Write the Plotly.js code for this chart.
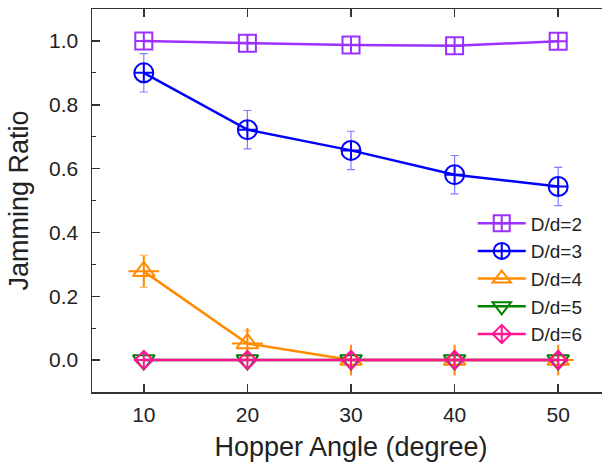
<!DOCTYPE html>
<html>
<head>
<meta charset="utf-8">
<script src="https://cdn.plot.ly/plotly-3.0.1.min.js"></script>
<style>
html,body{margin:0;padding:0;overflow:hidden;background:#fff;width:602px;height:466px;}
#chart{width:612px;height:466px;}
</style>
</head>
<body>
<div id="chart"></div>
<script>
const angles = [10, 20, 30, 40, 50];
const seriesNames = ['D/d=2', 'D/d=3', 'D/d=4', 'D/d=5', 'D/d=6'];
const dd2 = [1.0, 0.993, 0.987, 0.985, 0.999];
const dd3 = [0.900, 0.722, 0.657, 0.581, 0.544];
const dd4 = [0.278, 0.052, 0.0, 0.0, 0.0];
const dd5 = [0.0, 0.0, 0.0, 0.0, 0.0];
const dd6 = [0.0, 0.0, 0.0, 0.0, 0.0];
const err3 = [0.06, 0.06, 0.06, 0.06, 0.06];
const err4 = [0.05, 0.04, 0, 0, 0];
const xTicks = [10, 20, 30, 40, 50];
const yTicks = [0.0, 0.2, 0.4, 0.6, 0.8, 1.0];

const colors = ['#9B30FF', '#0000FF', '#FF8C00', '#008000', '#FF1493'];
const errColors = ['rgba(155,48,255,0.5)', 'rgba(0,0,255,0.5)', 'rgba(255,140,0,0.6)', 'rgba(0,128,0,0.5)', 'rgba(255,20,147,0.5)'];
const symbols = ['square-cross-open', 'circle-cross-open', 'triangle-up-open', 'triangle-down-open', 'diamond-cross-open'];
const sizes = [17, 19, 19, 19, 14];
const values = [dd2, dd3, dd4, dd5, dd6];
const errs = [null, err3, err4, null, null];

const traces = [];
values.forEach((v, i) => {
  const t = {
    x: angles, y: v, name: seriesNames[i], type: 'scatter', mode: 'lines+markers',
    line: {color: colors[i], width: 2.5},
    marker: {symbol: symbols[i], size: sizes[i], color: colors[i], line: {color: colors[i], width: 2}}
  };
  if (errs[i]) {
    t.error_y = {type: 'data', array: errs[i], visible: true, color: errColors[i], thickness: 1.2, width: 4};
  }
  traces.push(t);
  if (i === 2) {
    traces.push({
      x: angles, y: v, type: 'scatter', mode: 'markers', showlegend: false, hoverinfo: 'skip',
      marker: {symbol: 'cross-thin-open', size: 22, color: colors[i], line: {color: colors[i], width: 2}}
    });
  }
});

const layout = {
  width: 612, height: 466,
  margin: {l: 92, r: 2, t: 9, b: 74},
  paper_bgcolor: '#fff', plot_bgcolor: '#fff',
  font: {family: 'Liberation Sans, Arial, sans-serif', color: '#222'},
  showlegend: true,
  legend: {
    x: 0.735, y: 0.49, xanchor: 'left', yanchor: 'top',
    bgcolor: 'rgba(0,0,0,0)', borderwidth: 0,
    font: {size: 19, color: '#222'}, tracegroupgap: 0, itemwidth: 48
  },
  xaxis: {
    range: [5, 55], tickvals: xTicks, ticktext: xTicks.map(String),
    ticks: 'inside', ticklen: 8, tickwidth: 1.5, tickcolor: '#333',
    showline: true, linecolor: '#333', linewidth: 1.5, mirror: 'ticks',
    showgrid: false, zeroline: false,
    tickfont: {size: 21, color: '#222'}, ticklabelstandoff: 3,
    title: {text: 'Hopper Angle (degree)', font: {size: 27, color: '#222'}, standoff: 12}
  },
  yaxis: {
    range: [-0.1, 1.1], tickvals: yTicks, ticktext: yTicks.map(v => v.toFixed(1)),
    ticks: 'inside', ticklen: 8, tickwidth: 1.5, tickcolor: '#333',
    minor: {dtick: 0.1, ticks: 'inside', ticklen: 4, tickwidth: 1.2, tickcolor: '#333'},
    showline: true, linecolor: '#333', linewidth: 1.5, mirror: 'ticks',
    showgrid: false, zeroline: false,
    tickfont: {size: 21, color: '#222'}, ticklabelstandoff: 8,
    title: {text: 'Jamming Ratio', font: {size: 27, color: '#222'}, standoff: 12}
  }
};

Plotly.newPlot('chart', traces, layout, {displayModeBar: false, staticPlot: true});
</script>
</body>
</html>
